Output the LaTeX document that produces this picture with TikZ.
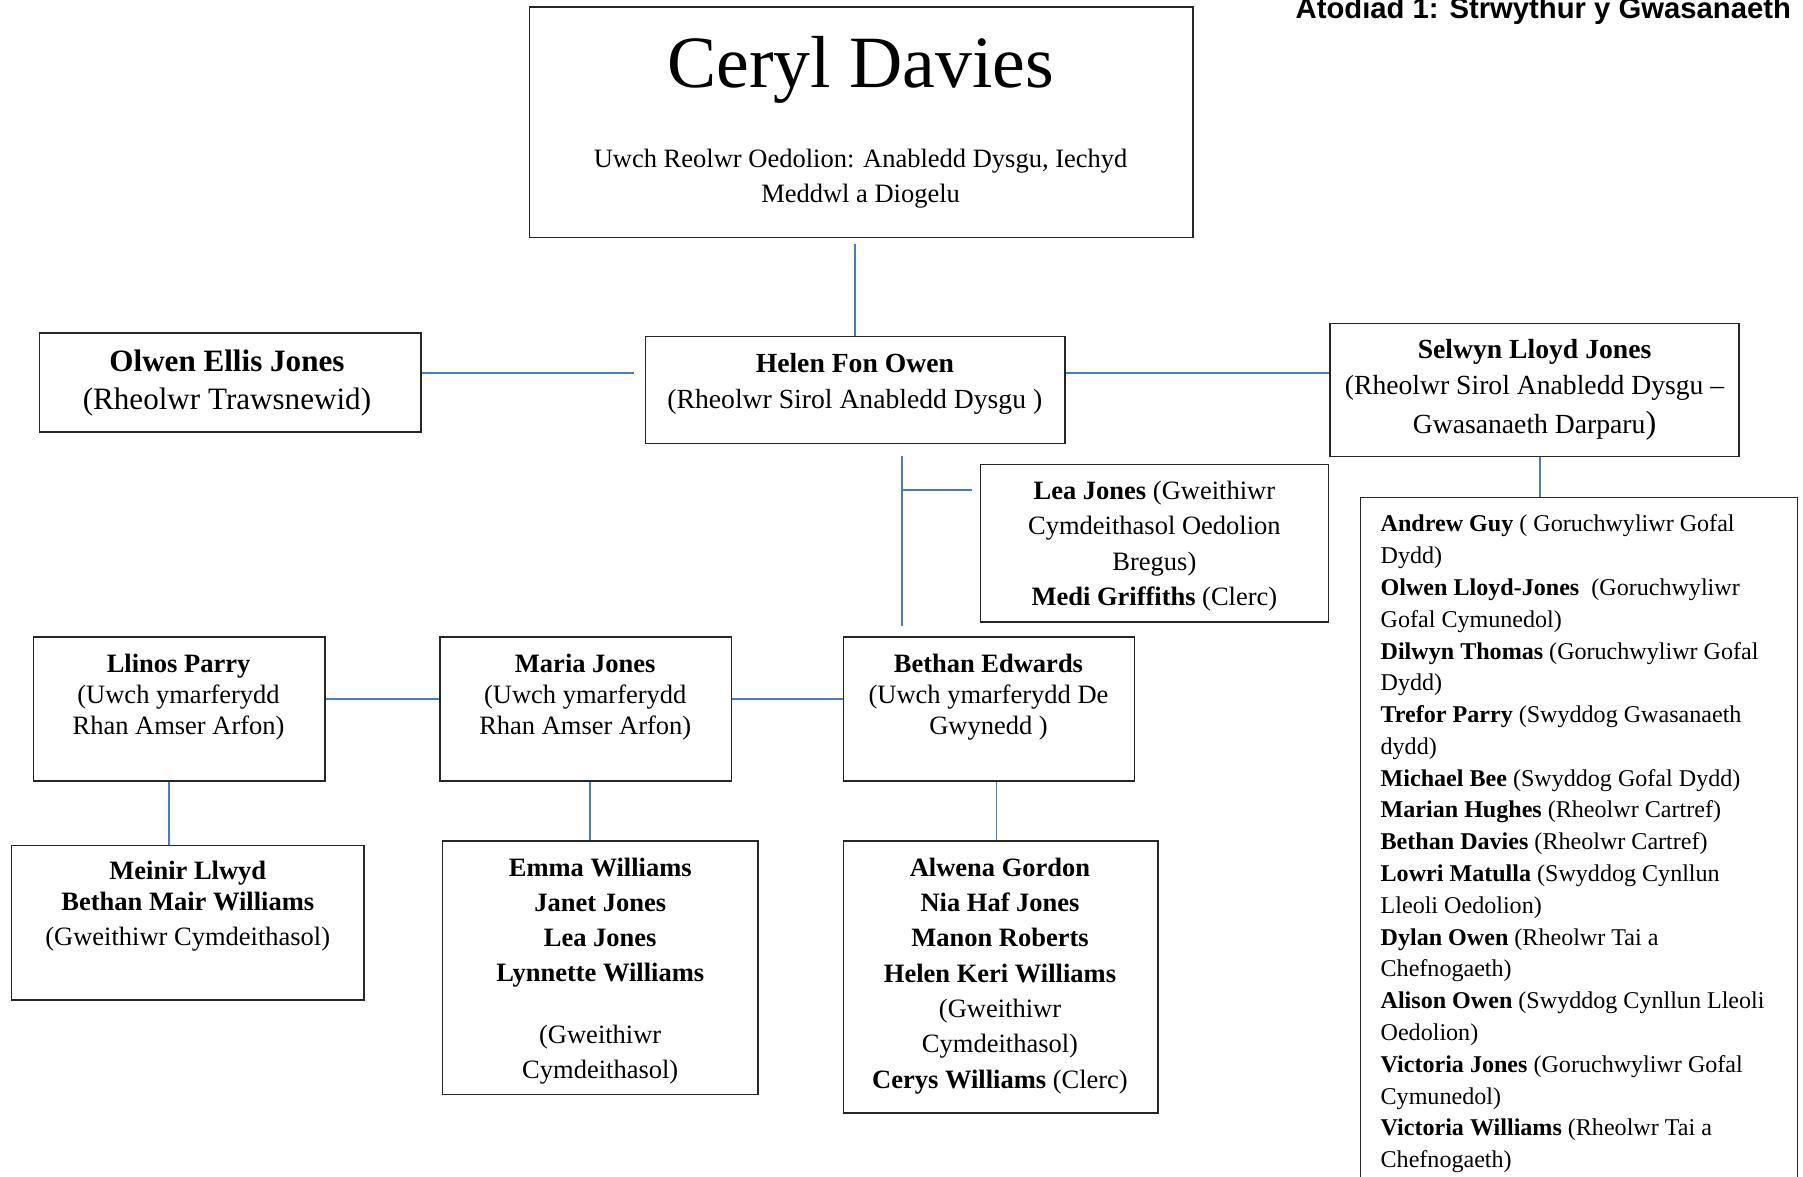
\documentclass[tikz,border=0pt]{standalone}
\usepackage{fontspec}
\setmainfont{Liberation Serif}
\newfontfamily\titlefont{Liberation Sans}
\definecolor{linkblue}{HTML}{4A7EBB}
\begin{document}
\begin{tikzpicture}[x=0.5pt,y=-0.5pt,
  box/.style={draw=black!85, line width=0.6pt, inner sep=0pt, rectangle},
  link/.style={draw=linkblue, line width=0.8pt},
  txt/.style={inner sep=0pt, align=center},
]
\useasboundingbox (0,0) rectangle (1565,1021);
\clip (0,0) rectangle (1565,1021);

% title
\node[inner sep=0pt, anchor=base east, font=\titlefont\fontsize{12.7}{15}\selectfont\bfseries] (title) at (1555,16) {Atodiad 1: Strwythur y Gwasanaeth};

% boxes
\node[box, minimum width=288pt, minimum height=100pt] (ceryl) at (747.5,106) {};
\node[box, minimum width=182pt, minimum height=46.5pt] (helen) at (742.5,338.5) {};
\node[box, minimum width=165.5pt, minimum height=43pt] (olwen) at (200,332) {};
\node[box, minimum width=177.5pt, minimum height=57.5pt] (selwyn) at (1332,338.5) {};
\node[box, minimum width=151pt, minimum height=68.5pt] (lea) at (1002,471.5) {};
\node[box, minimum width=189.5pt, minimum height=299pt] (list) at (1370.5,731) {};
\node[box, minimum width=126.5pt, minimum height=62.5pt] (llinos) at (155.5,615.5) {};
\node[box, minimum width=126.5pt, minimum height=62.5pt] (maria) at (508.5,615.5) {};
\node[box, minimum width=126.5pt, minimum height=62.5pt] (bethan) at (858.5,615.5) {};
\node[box, minimum width=153pt, minimum height=67pt] (meinir) at (163,801) {};
\node[box, minimum width=137pt, minimum height=110pt] (emma) at (521,840) {};
\node[box, minimum width=136.5pt, minimum height=118pt] (alwena) at (868.5,848) {};

% texts
\node[txt, font=\fontsize{32}{38}\selectfont] (cerylname) at (747,61) {Ceryl Davies};
\node[txt, font=\fontsize{11.5}{15}\selectfont] (cerylrole) at (747,155) {Uwch Reolwr Oedolion: Anabledd Dysgu, Iechyd\\Meddwl a Diogelu};
\node[txt, font=\fontsize{12}{15.5}\selectfont] (helentxt) at (742,333.5) {\textbf{Helen Fon Owen}\\(Rheolwr Sirol Anabledd Dysgu )};
\node[txt, font=\fontsize{13.5}{16.5}\selectfont] (olwentxt) at (197,332.5) {\textbf{Olwen Ellis Jones}\\(Rheolwr Trawsnewid)};
\node[txt, font=\fontsize{12}{15.5}\selectfont] (selwyntxt) at (1332,338.5) {\textbf{Selwyn Lloyd Jones}\\(Rheolwr Sirol Anabledd Dysgu --\\[1.5pt]Gwasanaeth Darparu{\fontsize{14}{15}\selectfont)}};
\node[txt, font=\fontsize{11.5}{15.25}\selectfont] (leatxt) at (1002,474) {\textbf{Lea Jones} (Gweithiwr\\Cymdeithasol Oedolion\\Bregus)\\\textbf{Medi Griffiths} (Clerc)};
\node[txt, font=\fontsize{11.5}{13.5}\selectfont] (llinostxt) at (155,605) {\textbf{Llinos Parry}\\(Uwch ymarferydd\\Rhan Amser Arfon)};
\node[txt, font=\fontsize{11.5}{13.5}\selectfont] (mariatxt) at (508,605) {\textbf{Maria Jones}\\(Uwch ymarferydd\\Rhan Amser Arfon)};
\node[txt, font=\fontsize{11.5}{13.5}\selectfont] (bethantxt) at (858,605) {\textbf{Bethan Edwards}\\(Uwch ymarferydd De\\Gwynedd )};
\node[txt, font=\fontsize{11.5}{13.75}\selectfont] (meinirtxt) at (163,786.5) {\textbf{Meinir Llwyd}\\\textbf{Bethan Mair Williams}\\[1.5pt](Gweithiwr Cymdeithasol)};
\node[txt, font=\fontsize{11.5}{15.25}\selectfont] (emmatxt) at (521,843) {\textbf{Emma Williams}\\\textbf{Janet Jones}\\\textbf{Lea Jones}\\\textbf{Lynnette Williams}\\[11.75pt](Gweithiwr\\Cymdeithasol)};
\node[txt, font=\fontsize{11.5}{15.33}\selectfont] (alwenatxt) at (868,847) {\textbf{Alwena Gordon}\\\textbf{Nia Haf Jones}\\\textbf{Manon Roberts}\\\textbf{Helen Keri Williams}\\(Gweithiwr\\Cymdeithasol)\\\textbf{Cerys Williams} (Clerc)};
\node[inner sep=0pt, align=left, anchor=north west, font=\fontsize{10.45}{13.8}\selectfont] (listtxt) at (1198,446.5) {%
\textbf{Andrew Guy} ( Goruchwyliwr Gofal\\
Dydd)\\
\textbf{Olwen Lloyd-Jones}\ \ (Goruchwyliwr\\
Gofal Cymunedol)\\
\textbf{Dilwyn Thomas} (Goruchwyliwr Gofal\\
Dydd)\\
\textbf{Trefor Parry} (Swyddog Gwasanaeth\\
dydd)\\
\textbf{Michael Bee} (Swyddog Gofal Dydd)\\
\textbf{Marian Hughes} (Rheolwr Cartref)\\
\textbf{Bethan Davies} (Rheolwr Cartref)\\
\textbf{Lowri Matulla} (Swyddog Cynllun\\
Lleoli Oedolion)\\
\textbf{Dylan Owen} (Rheolwr Tai a\\
Chefnogaeth)\\
\textbf{Alison Owen} (Swyddog Cynllun Lleoli\\
Oedolion)\\
\textbf{Victoria Jones} (Goruchwyliwr Gofal\\
Cymunedol)\\
\textbf{Victoria Williams} (Rheolwr Tai a\\
Chefnogaeth)};

% connectors
\coordinate (cA) at (742,212);
\draw[link] (cA) -- (cA |- helen.north);
\coordinate (hL) at (550,324);
\draw[link] (olwen.east |- hL) -- (hL);
\draw[link] (helen.east |- hL) -- (selwyn.west |- hL);
\coordinate (sA) at (1337,0);
\draw[link] (sA |- selwyn.south) -- (sA |- list.north);
\coordinate (vT) at (783,396);
\coordinate (vB) at (783,543);
\coordinate (vR) at (844,425);
\draw[link] (vT) -- (vB);
\draw[link] (vT |- vR) -- (vR);
\coordinate (rowY) at (0,607);
\draw[link] (llinos.east |- rowY) -- (maria.west |- rowY);
\draw[link] (maria.east |- rowY) -- (bethan.west |- rowY);
\coordinate (xL) at (147,0);
\draw[link] (xL |- llinos.south) -- (xL |- meinir.north);
\coordinate (xM) at (512,0);
\draw[link] (xM |- maria.south) -- (xM |- emma.north);
\coordinate (xB) at (865,0);
\draw[link] (xB |- bethan.south) -- (xB |- alwena.north);
\end{tikzpicture}
\end{document}
